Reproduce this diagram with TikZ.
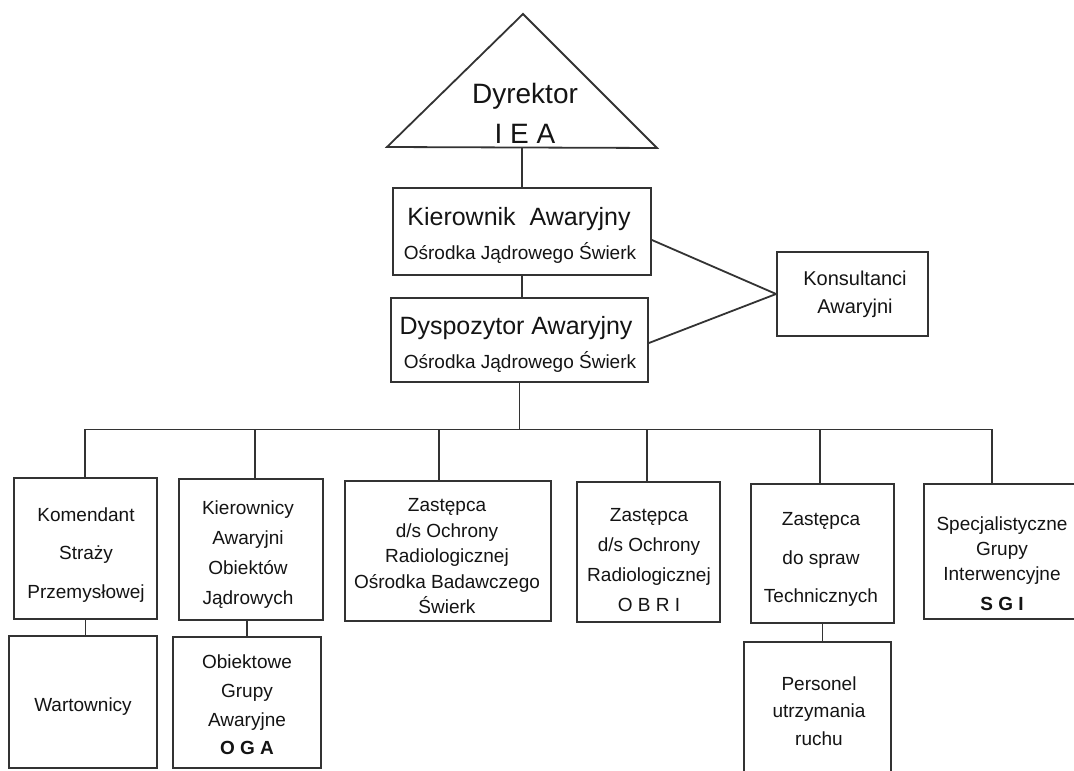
\documentclass[tikz,border=0pt]{standalone}
\usepackage{fontspec}
\setmainfont{Liberation Sans}
\definecolor{linec}{gray}{0.2}
\definecolor{textc}{gray}{0.08}
\tikzset{
  boxn/.style={draw=linec, line width=1.8pt, rectangle, inner sep=0pt},
  conn/.style={draw=linec, line width=1.8pt},
  txt/.style={align=center, inner sep=0pt, text=textc},
  ftitle/.style={font=\fontsize{25}{30}\selectfont},
  fsub/.style={font=\fontsize{19}{24}\selectfont},
}
\begin{document}
\begin{tikzpicture}[x=1pt,y=-1pt]
\useasboundingbox (0,0) rectangle (1074,771);
\clip (0,0) rectangle (1074,771);
\fill[white] (0,0) rectangle (1074,771);

% Dyrektor triangle
\coordinate (dyrL) at (387,147);
\coordinate (dyrA) at (523,14);
\coordinate (dyrR) at (657,148);
\coordinate (dyrbase) at (522,147.5);
\draw[conn, line join=miter] (dyrL) -- (dyrA) -- (dyrR) -- cycle;
\node[txt, font=\fontsize{28}{40}\selectfont] (dyrt) at (525,113) {Dyrektor\\I E A};

% boxes
\node[boxn, minimum width=258pt, minimum height=87pt] (kier) at (522,231.5) {};
\node[boxn, minimum width=257pt, minimum height=84pt] (dysp) at (519.5,340) {};
\node[boxn, minimum width=151pt, minimum height=84pt] (kons) at (852.5,294) {};

\node[boxn, minimum width=143pt, minimum height=141pt] (kom) at (85.5,548.5) {};
\node[boxn, minimum width=144pt, minimum height=141pt] (kie) at (251,549.5) {};
\node[boxn, minimum width=206pt, minimum height=140pt] (zas) at (448,551) {};
\node[boxn, minimum width=143pt, minimum height=140pt] (obr) at (648.5,552) {};
\node[boxn, minimum width=143pt, minimum height=139pt] (tec) at (822.5,553.5) {};
\node[boxn, minimum width=161pt, minimum height=135pt] (sgi) at (1004.5,551.5) {};

\node[boxn, minimum width=148pt, minimum height=132pt] (war) at (83,702) {};
\node[boxn, minimum width=148pt, minimum height=131pt] (oga) at (247,702.5) {};
\node[boxn, minimum width=147pt, minimum height=143pt] (per) at (817.5,713.5) {};

% texts
\node[txt, ftitle] (kiert1) at (519,219) {Kierownik\ \ Awaryjny};
\node[txt, fsub] (kiert2) at (520,253) {Ośrodka Jądrowego Świerk};
\node[txt, ftitle] (dyspt1) at (516,328.5) {Dyspozytor Awaryjny};
\node[txt, fsub] (dyspt2) at (520,362) {Ośrodka Jądrowego Świerk};
\node[txt, font=\fontsize{20}{28}\selectfont] (konst) at (855,294) {Konsultanci\\Awaryjni};

\node[txt, font=\fontsize{19}{38.5}\selectfont] (komt) at (86,555) {Komendant\\Straży\\Przemysłowej};
\node[txt, font=\fontsize{19}{30}\selectfont] (kiet) at (248,554.5) {Kierownicy\\Awaryjni\\Obiektów\\Jądrowych};
\node[txt, font=\fontsize{19}{25.5}\selectfont] (zast) at (447,556.5) {Zastępca\\d/s Ochrony\\Radiologicznej\\Ośrodka Badawczego\\Świerk};
\node[txt, font=\fontsize{19}{30.3}\selectfont] (obrt) at (649,560) {Zastępca\\d/s Ochrony\\Radiologicznej\\O B R I};
\node[txt, font=\fontsize{19}{38.5}\selectfont] (tect) at (821,559.5) {Zastępca\\do spraw\\Technicznych};
\node[txt, font=\fontsize{19}{25}\selectfont] (sgit) at (1002,564) {Specjalistyczne\\Grupy\\Interwencyjne\\[5pt]\textbf{S G I}};
\node[txt, font=\fontsize{19}{24}\selectfont] (wart) at (83,707) {Wartownicy};
\node[txt, font=\fontsize{19}{28.7}\selectfont] (ogat) at (247,705) {Obiektowe\\Grupy\\Awaryjne\\\textbf{O G A}};
\node[txt, font=\fontsize{19}{27.5}\selectfont] (pert) at (819,711) {Personel\\utrzymania\\ruchu};

% connectors
\draw[conn] (dyrbase) -- (kier.north);
\draw[conn] (kier.south) -- (kier.south |- dysp.north);
\draw[conn] ([yshift=-8.5pt]kier.east) -- (kons.west);
\draw[conn] ([yshift=-3pt]dysp.east) -- (kons.west);

\coordinate (bus) at (519.5,429.5);
\coordinate (b1) at (85,429.5);
\coordinate (b2) at (255,429.5);
\coordinate (b3) at (439,429.5);
\coordinate (b4) at (647,429.5);
\coordinate (b5) at (820,429.5);
\coordinate (b6) at (992,429.5);
\draw[conn] (dysp.south) -- (bus);
\draw[conn, line join=miter] (b1 |- kom.north) -- (b1) -- (b6) -- (b6 |- sgi.north);
\draw[conn] (b2) -- (b2 |- kie.north);
\draw[conn] (b3) -- (b3 |- zas.north);
\draw[conn] (b4) -- (b4 |- obr.north);
\draw[conn] (b5) -- (b5 |- tec.north);

\draw[conn] (kom.south) -- (kom.south |- war.north);
\draw[conn] (oga.north |- kie.south) -- (oga.north);
\draw[conn] (tec.south) -- (tec.south |- per.north);
\end{tikzpicture}
\end{document}
